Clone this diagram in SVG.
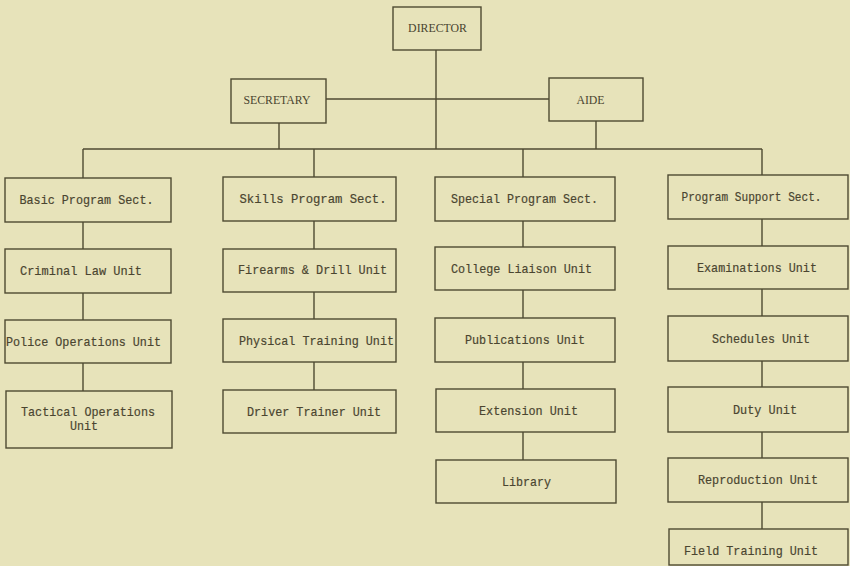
<svg xmlns="http://www.w3.org/2000/svg" width="850" height="566" viewBox="0 0 850 566">
<style>
.bg{fill:#e7e3ba}
.box{fill:none;stroke:#4f4a32;stroke-width:1.4}
.ln{fill:none;stroke:#4f4a32;stroke-width:1.4}
.t{font-family:"Liberation Mono","DejaVu Sans Mono",monospace;font-size:13.5px;fill:#4a4530;text-anchor:middle;stroke:#4a4530;stroke-width:0.2}
.h{font-family:"Liberation Serif","DejaVu Serif",serif;font-size:11.8px;fill:#4a4530;text-anchor:middle}
</style>
<rect class="bg" x="0" y="0" width="850" height="566"/>
<g id="connectors">
<path class="ln" d="M436 50V149"/>
<path class="ln" d="M326 99H549"/>
<path class="ln" d="M279 123V149"/>
<path class="ln" d="M596 121V149"/>
<path class="ln" d="M83 149H762"/>
<path class="ln" d="M83 149V178M83 222V249M83 293V320M83 363V391"/>
<path class="ln" d="M314 149V177M314 221V249M314 292V319M314 362V390"/>
<path class="ln" d="M523 149V177M523 221V247M523 290V318M523 362V389M523 432V460"/>
<path class="ln" d="M762 149V175M762 219V246M762 289V316M762 361V387M762 432V458M762 502V529"/>
</g>
<g id="director"><rect class="box" x="393" y="7" width="88" height="43"/><text class="h" x="437.5" y="32">DIRECTOR</text></g>
<g id="secretary"><rect class="box" x="231" y="79" width="95" height="44"/><text class="h" x="277" y="104">SECRETARY</text></g>
<g id="aide"><rect class="box" x="549" y="78" width="94" height="43"/><text class="h" x="590.5" y="104">AIDE</text></g>

<g id="basic"><rect class="box" x="5" y="178" width="166" height="44"/><text class="t" x="86.5" y="204" textLength="134" lengthAdjust="spacingAndGlyphs">Basic Program Sect.</text></g>
<g id="criminal"><rect class="box" x="5" y="249" width="166" height="44"/><text class="t" x="81" y="275" textLength="122" lengthAdjust="spacingAndGlyphs">Criminal Law Unit</text></g>
<g id="police"><rect class="box" x="5" y="320" width="166" height="43"/><text class="t" x="83.5" y="346" textLength="155" lengthAdjust="spacingAndGlyphs">Police Operations Unit</text></g>
<g id="tactical"><rect class="box" x="6" y="391" width="166" height="57"/><text class="t" x="88" y="416" textLength="134" lengthAdjust="spacingAndGlyphs">Tactical Operations</text><text class="t" x="84" y="430" textLength="28" lengthAdjust="spacingAndGlyphs">Unit</text></g>

<g id="skills"><rect class="box" x="223" y="177" width="173" height="44"/><text class="t" x="313" y="203" textLength="147" lengthAdjust="spacingAndGlyphs">Skills Program Sect.</text></g>
<g id="firearms"><rect class="box" x="223" y="249" width="173" height="43"/><text class="t" x="312.5" y="274" textLength="149" lengthAdjust="spacingAndGlyphs">Firearms &amp; Drill Unit</text></g>
<g id="physical"><rect class="box" x="223" y="319" width="173" height="43"/><text class="t" x="316.5" y="345" textLength="155" lengthAdjust="spacingAndGlyphs">Physical Training Unit</text></g>
<g id="driver"><rect class="box" x="223" y="390" width="173" height="43"/><text class="t" x="314" y="416" textLength="134" lengthAdjust="spacingAndGlyphs">Driver Trainer Unit</text></g>

<g id="special"><rect class="box" x="435" y="177" width="180" height="44"/><text class="t" x="524.5" y="203" textLength="147" lengthAdjust="spacingAndGlyphs">Special Program Sect.</text></g>
<g id="college"><rect class="box" x="435" y="247" width="180" height="43"/><text class="t" x="521.5" y="273" textLength="141" lengthAdjust="spacingAndGlyphs">College Liaison Unit</text></g>
<g id="publications"><rect class="box" x="435" y="318" width="180" height="44"/><text class="t" x="525" y="344" textLength="120" lengthAdjust="spacingAndGlyphs">Publications Unit</text></g>
<g id="extension"><rect class="box" x="436" y="389" width="179" height="43"/><text class="t" x="528.5" y="415" textLength="99" lengthAdjust="spacingAndGlyphs">Extension Unit</text></g>
<g id="library"><rect class="box" x="436" y="460" width="180" height="43"/><text class="t" x="526.5" y="486" textLength="49" lengthAdjust="spacingAndGlyphs">Library</text></g>

<g id="support"><rect class="box" x="668" y="175" width="180" height="44"/><text class="t" x="751.5" y="201" textLength="140" lengthAdjust="spacingAndGlyphs">Program Support Sect.</text></g>
<g id="examinations"><rect class="box" x="668" y="246" width="180" height="43"/><text class="t" x="757" y="272" textLength="120" lengthAdjust="spacingAndGlyphs">Examinations Unit</text></g>
<g id="schedules"><rect class="box" x="668" y="316" width="180" height="45"/><text class="t" x="761" y="343" textLength="98" lengthAdjust="spacingAndGlyphs">Schedules Unit</text></g>
<g id="duty"><rect class="box" x="668" y="387" width="180" height="45"/><text class="t" x="765" y="414" textLength="64" lengthAdjust="spacingAndGlyphs">Duty Unit</text></g>
<g id="reproduction"><rect class="box" x="668" y="458" width="180" height="44"/><text class="t" x="758" y="484" textLength="120" lengthAdjust="spacingAndGlyphs">Reproduction Unit</text></g>
<g id="field"><rect class="box" x="669" y="529" width="179" height="36"/><text class="t" x="751" y="555" textLength="134" lengthAdjust="spacingAndGlyphs">Field Training Unit</text></g>
</svg>
